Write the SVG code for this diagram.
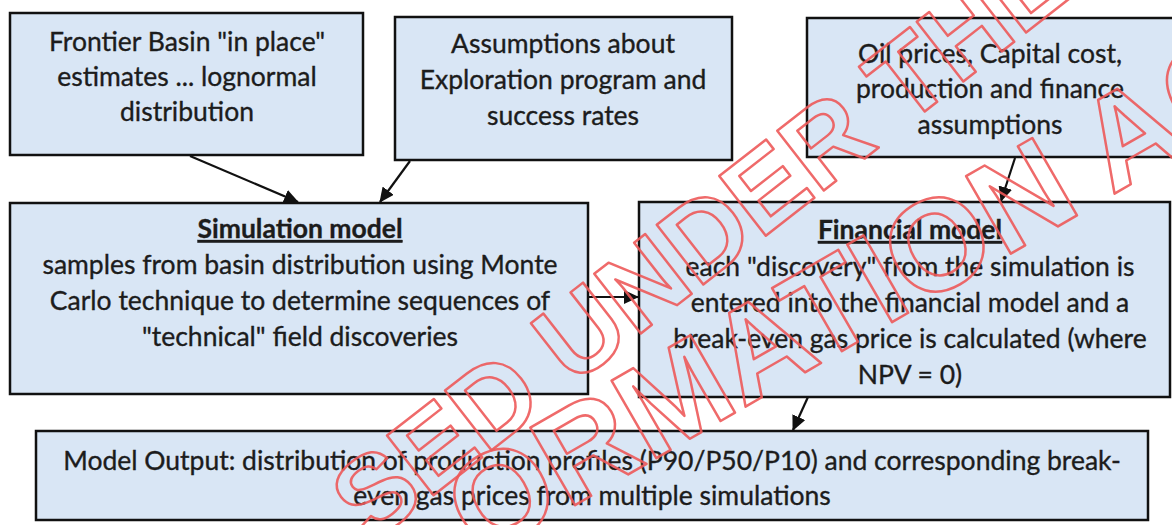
<svg xmlns="http://www.w3.org/2000/svg" width="1172" height="525" viewBox="0 0 1172 525">
  <style>
    .box { fill: #d9e6f5; stroke: #111; stroke-width: 2.5; }
    .t { font-family: Lato, "Liberation Sans", sans-serif; font-size: 26.5px; fill: #1c1c1c; stroke: #1c1c1c; stroke-width: 0.35; text-anchor: middle; }
    .h { font-weight: bold; text-decoration: underline; }
    .con { stroke: #111; stroke-width: 2.2; fill: none; marker-end: url(#arr); }
    .wm { font-family: "Liberation Sans", sans-serif; font-weight: bold; fill: none; stroke: #ee5a5a; stroke-width: 2.5; stroke-linejoin: round; opacity: 0.9; }
  </style>
  <defs>
    <marker id="arr" markerUnits="userSpaceOnUse" markerWidth="16" markerHeight="14" refX="14" refY="7" orient="auto">
      <path d="M0,0 L15,7 L0,14 Z" fill="#111"/>
    </marker>
  </defs>
  <rect width="1172" height="525" fill="#ffffff"/>

  <g id="frontier">
    <rect class="box" x="10" y="13" width="353" height="142"/>
    <text class="t" x="187" y="51">Frontier Basin "in place"</text>
    <text class="t" x="187" y="86">estimates ... lognormal</text>
    <text class="t" x="187" y="121">distribution</text>
  </g>

  <g id="exploration">
    <rect class="box" x="395" y="17" width="337" height="143"/>
    <text class="t" x="563" y="53">Assumptions about</text>
    <text class="t" x="563" y="89">Exploration program and</text>
    <text class="t" x="563" y="125">success rates</text>
  </g>

  <g id="finance-assumptions">
    <rect class="box" x="807" y="18" width="370" height="139"/>
    <text class="t" x="990" y="63">Oil prices, Capital cost,</text>
    <text class="t" x="990" y="98">production and finance</text>
    <text class="t" x="990" y="134">assumptions</text>
  </g>

  <g id="simulation">
    <rect class="box" x="10" y="203" width="578" height="191"/>
    <text class="t h" x="300" y="238">Simulation model</text>
    <text class="t" x="300" y="274">samples from basin distribution using Monte</text>
    <text class="t" x="300" y="310">Carlo technique to determine sequences of</text>
    <text class="t" x="300" y="346">"technical" field discoveries</text>
  </g>

  <g id="financial">
    <rect class="box" x="639" y="202" width="531" height="195"/>
    <text class="t h" x="910" y="239">Financial model</text>
    <text class="t" x="910" y="276">each "discovery" from the simulation is</text>
    <text class="t" x="910" y="312">entered into the financial model and a</text>
    <text class="t" x="910" y="348">break-even gas price is calculated (where</text>
    <text class="t" x="910" y="384">NPV = 0)</text>
  </g>

  <g id="output">
    <rect class="box" x="36" y="431" width="1112" height="89"/>
    <text class="t" x="592" y="470">Model Output: distribution of production profiles (P90/P50/P10) and corresponding break-</text>
    <text class="t" x="592" y="505">even gas prices from multiple simulations</text>
  </g>

  <g id="connectors">
    <line class="con" x1="190" y1="156" x2="298" y2="202"/>
    <line class="con" x1="410" y1="161" x2="380" y2="202"/>
    <line class="con" x1="1015" y1="158" x2="1001" y2="201"/>
    <line class="con" x1="588" y1="297" x2="638" y2="297"/>
    <line class="con" x1="808" y1="397" x2="793" y2="430"/>
  </g>

  <g id="watermark">
    <text class="wm" font-size="110" transform="translate(370 545) rotate(-38)">SED UNDER THE</text>
    <text class="wm" font-size="130" transform="translate(480 560) rotate(-30)">ORMATION AC</text>
  </g>
</svg>
